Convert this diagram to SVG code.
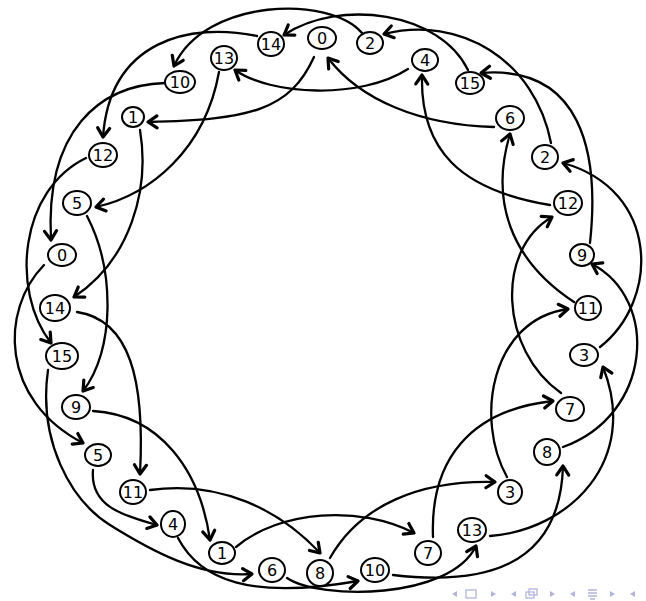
<svg xmlns="http://www.w3.org/2000/svg" width="646" height="601" viewBox="0 0 646 601">
<defs>
<marker id="ah" markerUnits="userSpaceOnUse" markerWidth="20" markerHeight="20" refX="0" refY="0" viewBox="-12 -10 16 20" orient="auto">
<path d="M-9,-6 L0,0 L-9,6" fill="none" stroke="#000" stroke-width="3.2" stroke-linecap="round" stroke-linejoin="round"/>
</marker>
<style>
.e{fill:none;stroke:#000;stroke-width:2.3;stroke-linecap:round;marker-end:url(#ah)}
.n ellipse{fill:#fff;stroke:#000;stroke-width:2}
.n text{font-family:"DejaVu Sans",sans-serif;font-size:16px;text-anchor:middle;dominant-baseline:central;fill:#000}
.nav{fill:#b4b4dc;stroke:none}
.navs{fill:none;stroke:#b4b4dc;stroke-width:1.3}
</style>
</defs>
<g id="connectors">
<path class="e" d="M362,33 C330,-5 205,-2 174,66"/>
<path class="e" d="M165,83 C100,85 45,130 51,240"/>
<path class="e" d="M257,36 C190,22 110,40 103,137"/>
<path class="e" d="M219,72 C205,150 150,195 96,207"/>
<path class="e" d="M314,57 C290,110 250,120 148,122"/>
<path class="e" d="M468,70 C440,12 340,-2 284,35"/>
<path class="e" d="M551,143 C535,60 460,15 384,34"/>
<path class="e" d="M408,69 C360,100 270,95 235,70"/>
<path class="e" d="M494,127 C420,125 360,100 328,58"/>
<path class="e" d="M550,205 C460,190 420,150 422,75"/>
<path class="e" d="M574,302 C510,260 490,200 510,134"/>
<path class="e" d="M590,243 C600,150 580,65 481,73"/>
<path class="e" d="M600,347 C660,300 660,190 563,163"/>
<path class="e" d="M561,393 C500,350 495,250 552,217"/>
<path class="e" d="M507,477 C475,420 490,320 568,309"/>
<path class="e" d="M563,447 C652,415 660,300 592,264"/>
<path class="e" d="M490,536 C570,530 640,460 603,367"/>
<path class="e" d="M393,575 C480,585 560,570 563,466"/>
<path class="e" d="M330,558 C360,505 420,480 495,482"/>
<path class="e" d="M236,547 C280,510 360,505 414,533"/>
<path class="e" d="M150,490 C220,480 280,510 320,553"/>
<path class="e" d="M93,411 C160,415 200,470 210,540"/>
<path class="e" d="M93,470 C90,505 120,515 157,525"/>
<path class="e" d="M48,370 C38,440 70,500 110,525 S200,578 252,574"/>
<path class="e" d="M178,538 C200,580 250,600 358,581"/>
<path class="e" d="M287,578 C320,600 450,600 476,546"/>
<path class="e" d="M433,537 C430,460 470,410 553,401"/>
<path class="e" d="M140,130 C150,190 130,260 74,297"/>
<path class="e" d="M87,216 C115,270 115,350 83,391"/>
<path class="e" d="M44,265 C0,310 0,400 83,443"/>
<path class="e" d="M86,158 C20,190 10,290 51,343"/>
<path class="e" d="M77,312 C130,320 145,380 140,474"/>
</g>
<g id="n-0top" class="n"><ellipse cx="322" cy="38" rx="14" ry="11"/><text x="322" y="38">0</text></g>
<g id="n-2top" class="n"><ellipse cx="370" cy="43" rx="13" ry="11"/><text x="370" y="43">2</text></g>
<g id="n-4top" class="n"><ellipse cx="425" cy="60" rx="13" ry="11"/><text x="425" y="60">4</text></g>
<g id="n-15top" class="n"><ellipse cx="470" cy="83" rx="14" ry="11"/><text x="470" y="83">15</text></g>
<g id="n-6r" class="n"><ellipse cx="510" cy="118" rx="14" ry="12"/><text x="510" y="118">6</text></g>
<g id="n-2r" class="n"><ellipse cx="545" cy="157" rx="13" ry="12"/><text x="545" y="157">2</text></g>
<g id="n-12r" class="n"><ellipse cx="568" cy="203" rx="14" ry="12"/><text x="568" y="203">12</text></g>
<g id="n-9r" class="n"><ellipse cx="582" cy="255" rx="12" ry="11"/><text x="582" y="255">9</text></g>
<g id="n-11r" class="n"><ellipse cx="588" cy="308" rx="13" ry="12"/><text x="588" y="308">11</text></g>
<g id="n-3r" class="n"><ellipse cx="584" cy="355" rx="14" ry="11"/><text x="584" y="355">3</text></g>
<g id="n-7r" class="n"><ellipse cx="570" cy="409" rx="14" ry="12"/><text x="570" y="409">7</text></g>
<g id="n-8r" class="n"><ellipse cx="547" cy="452" rx="13" ry="13"/><text x="547" y="452">8</text></g>
<g id="n-3b" class="n"><ellipse cx="510" cy="492" rx="12" ry="12"/><text x="510" y="492">3</text></g>
<g id="n-13b" class="n"><ellipse cx="472" cy="530" rx="14" ry="12"/><text x="472" y="530">13</text></g>
<g id="n-7b" class="n"><ellipse cx="428" cy="553" rx="13" ry="12"/><text x="428" y="553">7</text></g>
<g id="n-10b" class="n"><ellipse cx="375" cy="570" rx="14" ry="12"/><text x="375" y="570">10</text></g>
<g id="n-8b" class="n"><ellipse cx="320" cy="573" rx="13" ry="13"/><text x="320" y="573">8</text></g>
<g id="n-6b" class="n"><ellipse cx="272" cy="570" rx="13" ry="12"/><text x="272" y="570">6</text></g>
<g id="n-1b" class="n"><ellipse cx="222" cy="553" rx="13" ry="11"/><text x="222" y="553">1</text></g>
<g id="n-4b" class="n"><ellipse cx="173" cy="524" rx="12" ry="13"/><text x="173" y="524">4</text></g>
<g id="n-11b" class="n"><ellipse cx="133" cy="492" rx="13" ry="12"/><text x="133" y="492">11</text></g>
<g id="n-5lL" class="n"><ellipse cx="98" cy="455" rx="13" ry="11"/><text x="98" y="455">5</text></g>
<g id="n-9L" class="n"><ellipse cx="76" cy="407" rx="14" ry="12"/><text x="76" y="407">9</text></g>
<g id="n-15L" class="n"><ellipse cx="62" cy="356" rx="16" ry="13"/><text x="62" y="356">15</text></g>
<g id="n-14L" class="n"><ellipse cx="55" cy="308" rx="15" ry="13"/><text x="55" y="308">14</text></g>
<g id="n-0L" class="n"><ellipse cx="62" cy="255" rx="14" ry="11"/><text x="62" y="255">0</text></g>
<g id="n-5uL" class="n"><ellipse cx="77" cy="203" rx="14" ry="12"/><text x="77" y="203">5</text></g>
<g id="n-12L" class="n"><ellipse cx="103" cy="155" rx="14" ry="12"/><text x="103" y="155">12</text></g>
<g id="n-1TL" class="n"><ellipse cx="133" cy="117" rx="11" ry="10"/><text x="133" y="117">1</text></g>
<g id="n-10top" class="n"><ellipse cx="180" cy="82" rx="15" ry="11"/><text x="180" y="82">10</text></g>
<g id="n-13top" class="n"><ellipse cx="224" cy="58" rx="13" ry="12"/><text x="224" y="58">13</text></g>
<g id="n-14top" class="n"><ellipse cx="271" cy="44" rx="13" ry="12"/><text x="271" y="44">14</text></g>
<g id="nav">
<polygon class="nav" points="452,594 457,591 457,597"/>
<rect class="navs" x="466" y="590" width="10" height="8"/>
<polygon class="nav" points="491,591 491,597 496,594"/>
<polygon class="nav" points="511,594 516,591 516,597"/>
<rect class="navs" x="526" y="592" width="8" height="6"/>
<rect class="navs" x="529" y="589" width="8" height="6"/>
<polygon class="nav" points="550,591 550,597 555,594"/>
<polygon class="nav" points="570,594 575,591 575,597"/>
<path class="navs" d="M588,590 H597 M588,593 H597 M588,596 H597 M590,599 H595"/>
<polygon class="nav" points="610,591 610,597 615,594"/>
<polygon class="nav" points="630,594 635,591 635,597"/>
</g>
</svg>
